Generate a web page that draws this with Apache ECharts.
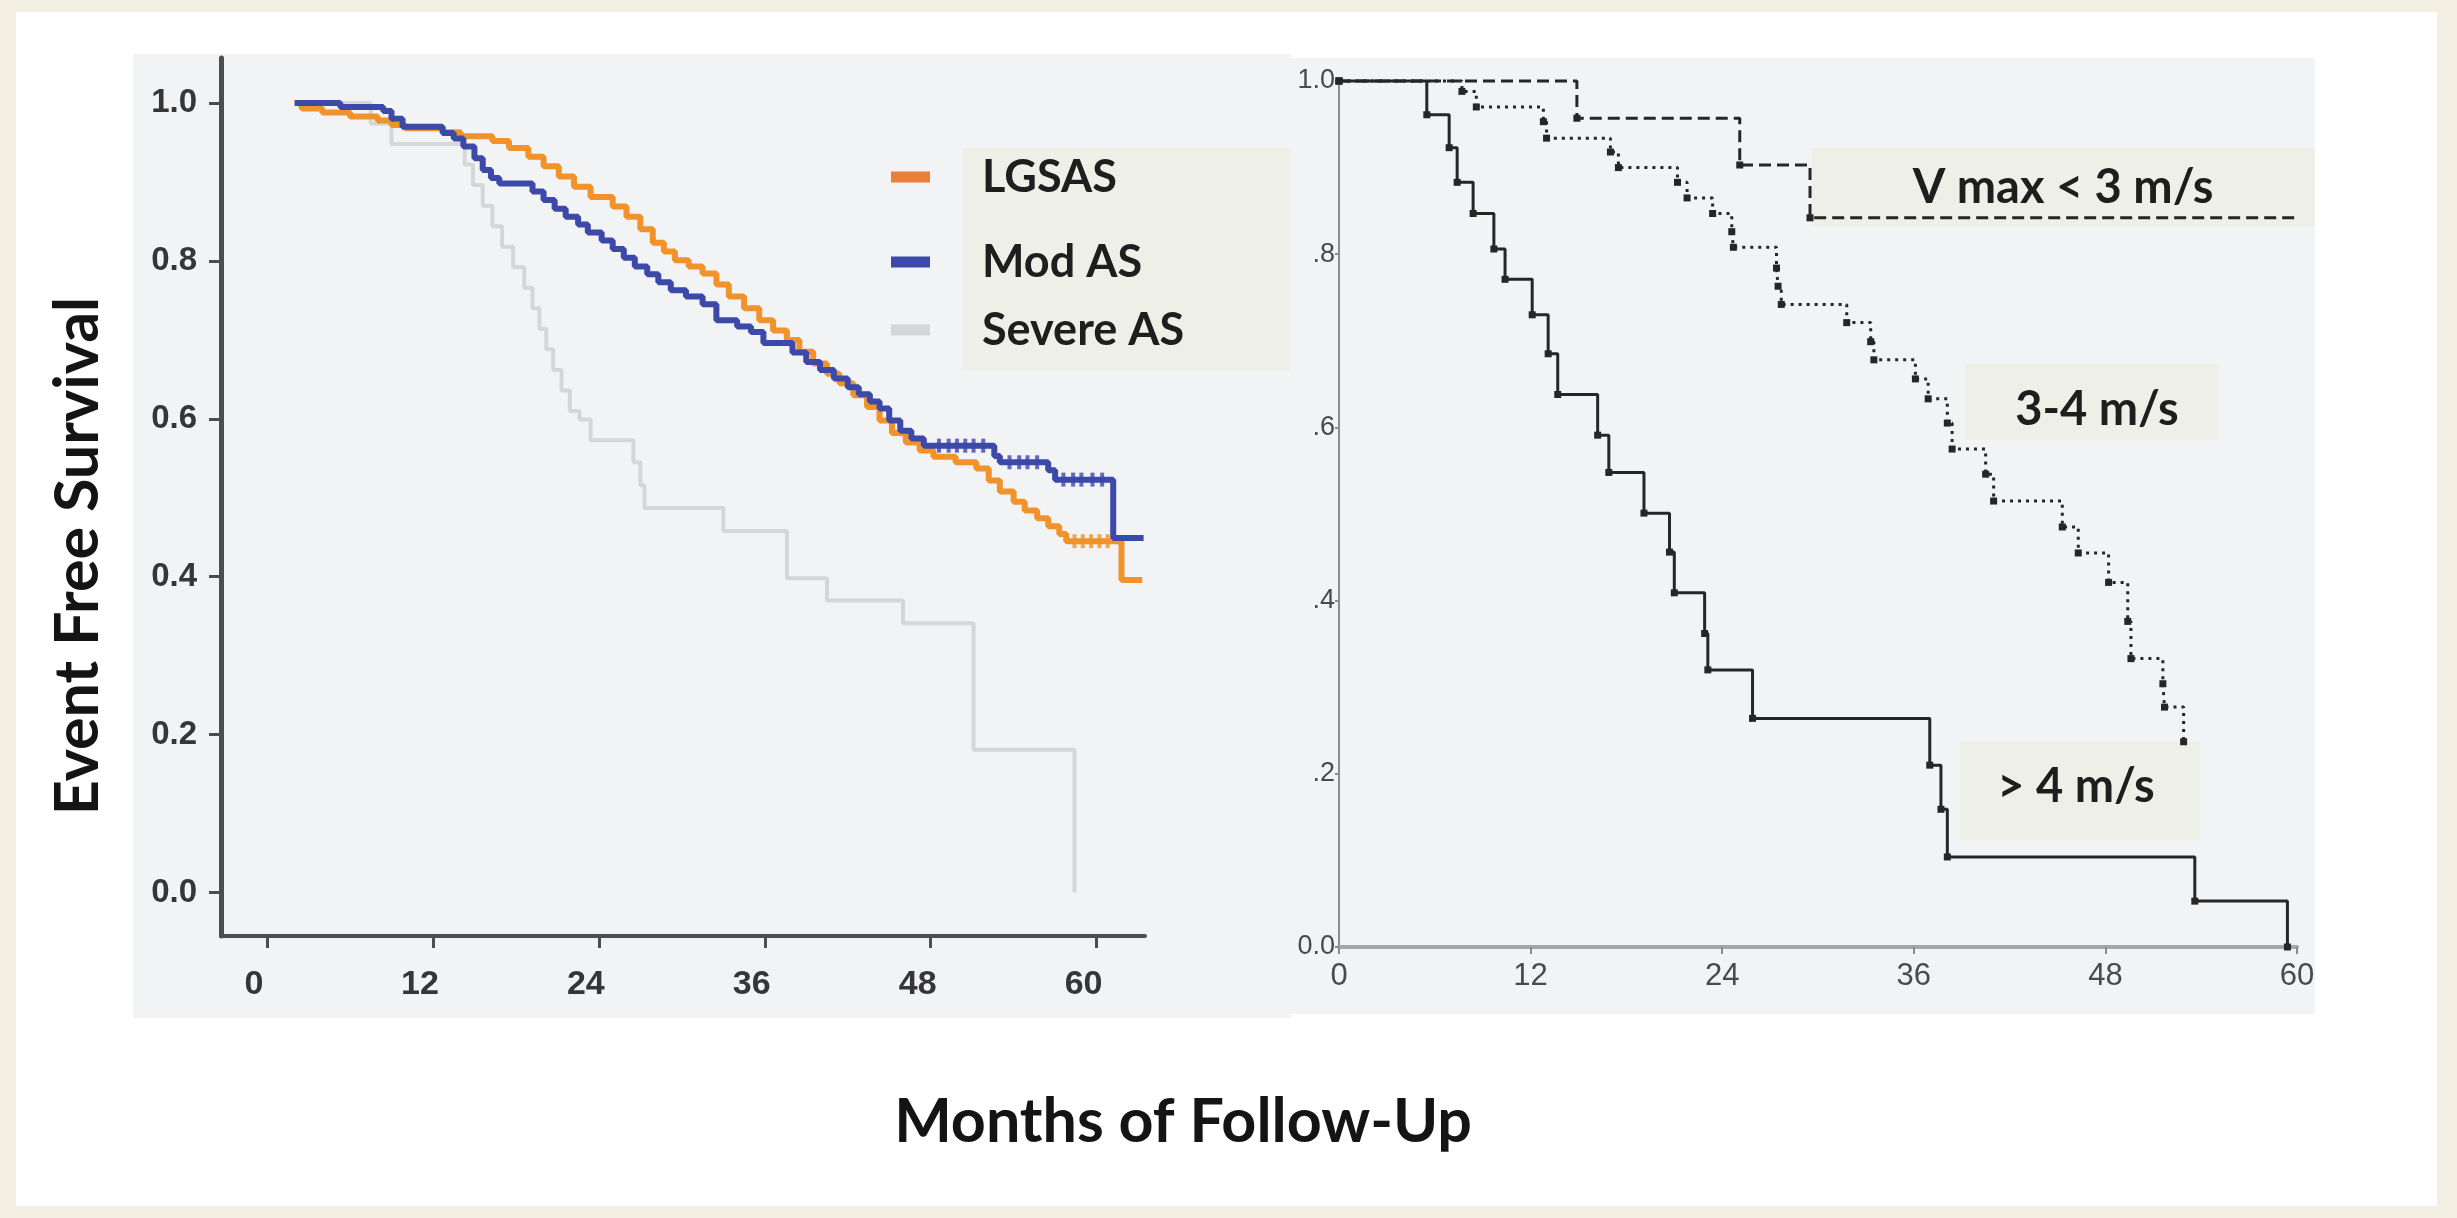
<!DOCTYPE html>
<html>
<head>
<meta charset="utf-8">
<title>Event Free Survival</title>
<script src="https://cdn.jsdelivr.net/npm/echarts@6/dist/echarts.min.js"></script>
<style>
  html, body { margin: 0; padding: 0; background: #f3eee2; }
  #chart { width: 2457px; height: 1218px; }
</style>
</head>
<body>
<div id="chart"></div>
<script>
// Axis ticks
const monthTicks = [0, 12, 24, 36, 48, 60];
const survivalTicks = [0, 0.2, 0.4, 0.6, 0.8, 1.0];

// Left panel: Kaplan-Meier curves by AS group
const lgsasMonths = [2, 2.5, 4, 6, 8, 9, 10, 12.7, 14, 16.3, 17.5, 18.9, 20, 21.1, 22.2, 23.4, 25, 26, 27, 27.9, 28.7, 29.5, 30.5, 31.5, 32.5, 33.4, 34.5, 35.6, 36.6, 37.6, 38.5, 39.5, 40.5, 41.4, 42.4, 43.4, 44.3, 45.2, 46.2, 47.2, 48.2, 49.8, 51.3, 52.2, 53, 54, 54.8, 55.7, 56.5, 57.3, 57.8, 61.8, 63.3];
const lgsasSurvival = [1.0, 0.993, 0.988, 0.983, 0.978, 0.972, 0.968, 0.963, 0.958, 0.952, 0.943, 0.932, 0.920, 0.907, 0.894, 0.881, 0.869, 0.856, 0.840, 0.823, 0.812, 0.801, 0.793, 0.784, 0.770, 0.755, 0.740, 0.725, 0.712, 0.700, 0.685, 0.670, 0.657, 0.645, 0.630, 0.615, 0.598, 0.582, 0.570, 0.560, 0.552, 0.545, 0.537, 0.522, 0.508, 0.495, 0.484, 0.474, 0.464, 0.454, 0.445, 0.396, 0.396];

const modMonths = [2, 5.3, 8.4, 9.0, 9.8, 12.7, 13.5, 14.2, 15.0, 15.6, 16.2, 16.8, 19.2, 20.0, 20.8, 21.6, 22.5, 23.2, 24.2, 25.0, 25.8, 26.6, 27.5, 28.3, 29.2, 30.3, 31.5, 32.5, 34.0, 35.0, 35.9, 38.0, 39.0, 40.0, 41.0, 42.0, 42.8, 43.6, 44.3, 45.0, 45.8, 46.6, 47.5, 52.6, 53.0, 56.5, 57.0, 61.2, 63.4];
const modSurvival = [1.0, 0.995, 0.990, 0.980, 0.970, 0.962, 0.955, 0.945, 0.930, 0.915, 0.905, 0.898, 0.888, 0.877, 0.866, 0.856, 0.846, 0.836, 0.826, 0.815, 0.804, 0.793, 0.783, 0.773, 0.763, 0.755, 0.745, 0.725, 0.717, 0.710, 0.696, 0.684, 0.672, 0.662, 0.651, 0.640, 0.631, 0.622, 0.613, 0.598, 0.585, 0.575, 0.566, 0.553, 0.545, 0.535, 0.523, 0.449, 0.449];

const severeMonths = [2, 7.5, 9.0, 14.3, 14.9, 15.6, 16.3, 17.0, 17.8, 18.6, 19.2, 19.7, 20.2, 20.7, 21.3, 21.9, 22.6, 23.4, 26.5, 27.0, 27.3, 33.0, 37.6, 40.5, 46.0, 51.1, 58.4];
const severeSurvival = [1.0, 0.974, 0.948, 0.922, 0.896, 0.870, 0.844, 0.818, 0.792, 0.766, 0.740, 0.714, 0.688, 0.662, 0.636, 0.610, 0.599, 0.573, 0.545, 0.516, 0.487, 0.458, 0.398, 0.370, 0.341, 0.181, 0.0];

// Censored observations (tick marks)
const modCensorMonths = [48.6, 49.3, 49.9, 50.5, 51.1, 51.8, 53.7, 54.4, 55.0, 55.7, 57.6, 58.3, 58.9, 59.7, 60.4];
const modCensorSurvival = [0.566, 0.566, 0.566, 0.566, 0.566, 0.566, 0.545, 0.545, 0.545, 0.545, 0.523, 0.523, 0.523, 0.523, 0.523];
const lgsasCensorMonths = [58.4, 59.0, 59.6, 60.2, 60.8];
const lgsasCensorSurvival = [0.445, 0.445, 0.445, 0.445, 0.445];

// Right panel: curves by peak velocity
const vLowMonths = [0, 14.9, 25.1, 29.5, 60];
const vLowSurvival = [1.0, 0.957, 0.903, 0.842, 0.842];

const vMidMonths = [0, 7.7, 8.6, 12.8, 13.0, 17.0, 17.5, 21.2, 21.8, 23.4, 24.6, 24.7, 27.4, 27.5, 27.7, 31.8, 33.3, 33.5, 36.1, 36.9, 38.1, 38.4, 40.5, 41.0, 45.3, 46.3, 48.2, 49.4, 49.6, 51.6, 51.7, 52.9];
const vMidSurvival = [1.0, 0.988, 0.970, 0.953, 0.934, 0.918, 0.900, 0.883, 0.865, 0.847, 0.826, 0.808, 0.784, 0.763, 0.742, 0.721, 0.699, 0.678, 0.656, 0.633, 0.605, 0.575, 0.546, 0.515, 0.485, 0.455, 0.421, 0.376, 0.333, 0.304, 0.277, 0.237];

const vHighMonths = [0, 5.5, 6.9, 7.4, 8.4, 9.7, 10.4, 12.1, 13.1, 13.7, 16.2, 16.9, 19.1, 20.7, 21.0, 22.9, 23.1, 25.9, 37.0, 37.7, 38.1, 53.6, 59.4];
const vHighSurvival = [1.0, 0.961, 0.923, 0.883, 0.847, 0.806, 0.771, 0.730, 0.685, 0.638, 0.591, 0.548, 0.501, 0.456, 0.409, 0.362, 0.320, 0.264, 0.210, 0.159, 0.104, 0.053, 0.0];

const groupNames = ['LGSAS', 'Mod AS', 'Severe AS'];
const velocityNames = ['V max < 3 m/s', '3-4 m/s', '> 4 m/s'];

const pairs = (xs, ys) => xs.map((x, i) => [x, ys[i]]);

const ORANGE = '#f1922b';
const ORANGE_KEY = '#ec7f38';
const BLUE = '#3c49a9';
const LIGHT = '#d5d6d8';
const INK = '#262626';
const PANEL = '#f2f3f5';
const NOTE_BG = '#eef0e7';

const chart = echarts.init(document.getElementById('chart'), null, { renderer: 'canvas' });

const boldLabel = { fontFamily: 'Liberation Sans, Arial, sans-serif', fontWeight: 'bold', color: '#363636' };
const plainLabel = { fontFamily: 'Liberation Sans, Arial, sans-serif', color: '#4a4a4a' };

function legendFor(name, top, keyColor) {
  const item = keyColor ? { name: name, itemStyle: { color: keyColor } } : name;
  return {
    show: true, data: [item], left: 891, top: top, padding: 0,
    orient: 'vertical', icon: 'rect', itemWidth: 39, itemHeight: 11,
    selectedMode: false,
    textStyle: { fontFamily: 'Lato', fontWeight: 'bold', fontSize: 45, color: '#1e1e1e', lineHeight: 50, padding: [0, 0, 0, 47] }
  };
}

function note(text, cx, cy) {
  return {
    type: 'text', z: 20, x: cx, y: cy,
    style: { text: text, x: 0, y: 0, fill: '#1e1e1e', font: 'bold 47px Lato', align: 'center', verticalAlign: 'middle', textAlign: 'center', textVerticalAlign: 'middle' }
  };
}

const lastLow = vLowMonths.length - 1;

const option = {
  animation: false,
  backgroundColor: '#f3eee2',
  graphic: [
    { type: 'rect', z: -30, shape: { x: 16, y: 12, width: 2421, height: 1194 }, style: { fill: '#ffffff' } },
    { type: 'rect', z: -20, shape: { x: 133, y: 54, width: 1157, height: 964 }, style: { fill: PANEL } },
    { type: 'rect', z: -20, shape: { x: 1290, y: 58, width: 1025, height: 956 }, style: { fill: PANEL } },
    { type: 'rect', z: -10, shape: { x: 963, y: 148, width: 327, height: 222 }, style: { fill: NOTE_BG } },
    { type: 'rect', z: -10, shape: { x: 1812, y: 148, width: 503, height: 78 }, style: { fill: NOTE_BG } },
    { type: 'rect', z: -10, shape: { x: 1965, y: 364, width: 253, height: 76 }, style: { fill: NOTE_BG } },
    { type: 'rect', z: -10, shape: { x: 1960, y: 742, width: 240, height: 98 }, style: { fill: NOTE_BG } },
    note(velocityNames[0], 2063, 188),
    note(velocityNames[1], 2097, 410),
    note(velocityNames[2], 2076, 787),
    {
      type: 'text', z: 20, x: 78, y: 556, rotation: Math.PI / 2,
      style: { text: 'Event Free Survival', x: 0, y: 0, fill: '#141414', font: 'bold 61px Lato', align: 'center', verticalAlign: 'middle', textAlign: 'center', textVerticalAlign: 'middle' }
    },
    {
      type: 'text', z: 20, x: 1183, y: 1122,
      style: { text: 'Months of Follow-Up', x: 0, y: 0, fill: '#141414', font: 'bold 61px Lato', align: 'center', verticalAlign: 'middle', textAlign: 'center', textVerticalAlign: 'middle' }
    }
  ],
  legend: [
    legendFor(groupNames[0], 152, ORANGE_KEY),
    legendFor(groupNames[1], 237),
    legendFor(groupNames[2], 305)
  ],
  grid: [
    { left: 221, top: 58, width: 924, height: 878, containLabel: false },
    { left: 1339, top: 81, width: 958, height: 866, containLabel: false }
  ],
  xAxis: [
    {
      gridIndex: 0, type: 'value', min: -3.33, max: 63.5,
      axisLine: { show: true, onZero: false, lineStyle: { color: '#4d4d4d', width: 4 } },
      axisTick: { show: true, customValues: monthTicks, length: 12, lineStyle: { color: '#4d4d4d', width: 3 } },
      axisLabel: Object.assign({ customValues: monthTicks, margin: 32, fontSize: 34, padding: [0, 26, 0, 0] }, boldLabel),
      splitLine: { show: false }
    },
    {
      gridIndex: 1, type: 'value', min: 0, max: 60, interval: 12,
      axisLine: { show: true, onZero: false, lineStyle: { color: '#a6a6a6', width: 4 } },
      axisTick: { show: true, length: 7, lineStyle: { color: '#8a8a8a', width: 2 } },
      axisLabel: Object.assign({ margin: 14, fontSize: 31 }, plainLabel),
      splitLine: { show: false }
    }
  ],
  yAxis: [
    {
      gridIndex: 0, type: 'value', min: -0.055, max: 1.057,
      axisLine: { show: true, onZero: false, lineStyle: { color: '#4d4d4d', width: 5 } },
      axisTick: { show: true, customValues: survivalTicks, length: 12, lineStyle: { color: '#4d4d4d', width: 3 } },
      axisLabel: Object.assign({ customValues: survivalTicks, margin: 24, fontSize: 33, formatter: v => v.toFixed(1) }, boldLabel),
      splitLine: { show: false }
    },
    {
      gridIndex: 1, type: 'value', min: 0, max: 1, interval: 0.2,
      axisLine: { show: true, onZero: false, lineStyle: { color: '#8c8c8c', width: 2 } },
      axisTick: { show: true, length: 4, lineStyle: { color: '#8c8c8c', width: 2 } },
      axisLabel: Object.assign({
        margin: 4, fontSize: 27,
        formatter: v => {
          const r = Math.round(v * 10) / 10;
          if (r === 0) return '0.0';
          if (r === 1) return '1.0';
          return '.' + Math.round(r * 10);
        }
      }, plainLabel),
      splitLine: { show: false }
    }
  ],
  series: [
    {
      name: groupNames[2], type: 'line', xAxisIndex: 0, yAxisIndex: 0, step: 'end',
      data: pairs(severeMonths, severeSurvival), showSymbol: false, symbol: 'none', z: 2,
      lineStyle: { color: LIGHT, width: 4 }, itemStyle: { color: LIGHT }
    },
    {
      name: groupNames[0], type: 'line', xAxisIndex: 0, yAxisIndex: 0, step: 'end',
      data: pairs(lgsasMonths, lgsasSurvival), showSymbol: false, symbol: 'none', z: 3,
      lineStyle: { color: ORANGE, width: 6 }, itemStyle: { color: ORANGE }
    },
    {
      name: groupNames[0], type: 'scatter', xAxisIndex: 0, yAxisIndex: 0,
      data: pairs(lgsasCensorMonths, lgsasCensorSurvival), symbol: 'rect', symbolSize: [4, 14], z: 3,
      itemStyle: { color: ORANGE }
    },
    {
      name: groupNames[1], type: 'line', xAxisIndex: 0, yAxisIndex: 0, step: 'end',
      data: pairs(modMonths, modSurvival), showSymbol: false, symbol: 'none', z: 4,
      lineStyle: { color: BLUE, width: 6 }, itemStyle: { color: BLUE }
    },
    {
      name: groupNames[1], type: 'scatter', xAxisIndex: 0, yAxisIndex: 0,
      data: pairs(modCensorMonths, modCensorSurvival), symbol: 'rect', symbolSize: [4, 14], z: 4,
      itemStyle: { color: BLUE }
    },
    {
      name: velocityNames[0], type: 'line', xAxisIndex: 1, yAxisIndex: 1, step: 'end', clip: false,
      data: pairs(vLowMonths, vLowSurvival), showAllSymbol: true,
      symbol: (val, p) => (p.dataIndex === lastLow ? 'none' : 'rect'), symbolSize: 7,
      lineStyle: { color: INK, width: 3, type: [12, 6] }, itemStyle: { color: INK }
    },
    {
      name: velocityNames[1], type: 'line', xAxisIndex: 1, yAxisIndex: 1, step: 'end', clip: false,
      data: pairs(vMidMonths, vMidSurvival), showAllSymbol: true, symbol: 'rect', symbolSize: 7,
      lineStyle: { color: INK, width: 3, type: [3, 5] }, itemStyle: { color: INK }
    },
    {
      name: velocityNames[2], type: 'line', xAxisIndex: 1, yAxisIndex: 1, step: 'end', clip: false,
      data: pairs(vHighMonths, vHighSurvival), showAllSymbol: true, symbol: 'rect', symbolSize: 7,
      lineStyle: { color: INK, width: 3 }, itemStyle: { color: INK }
    }
  ]
};

chart.setOption(option);
</script>
</body>
</html>
